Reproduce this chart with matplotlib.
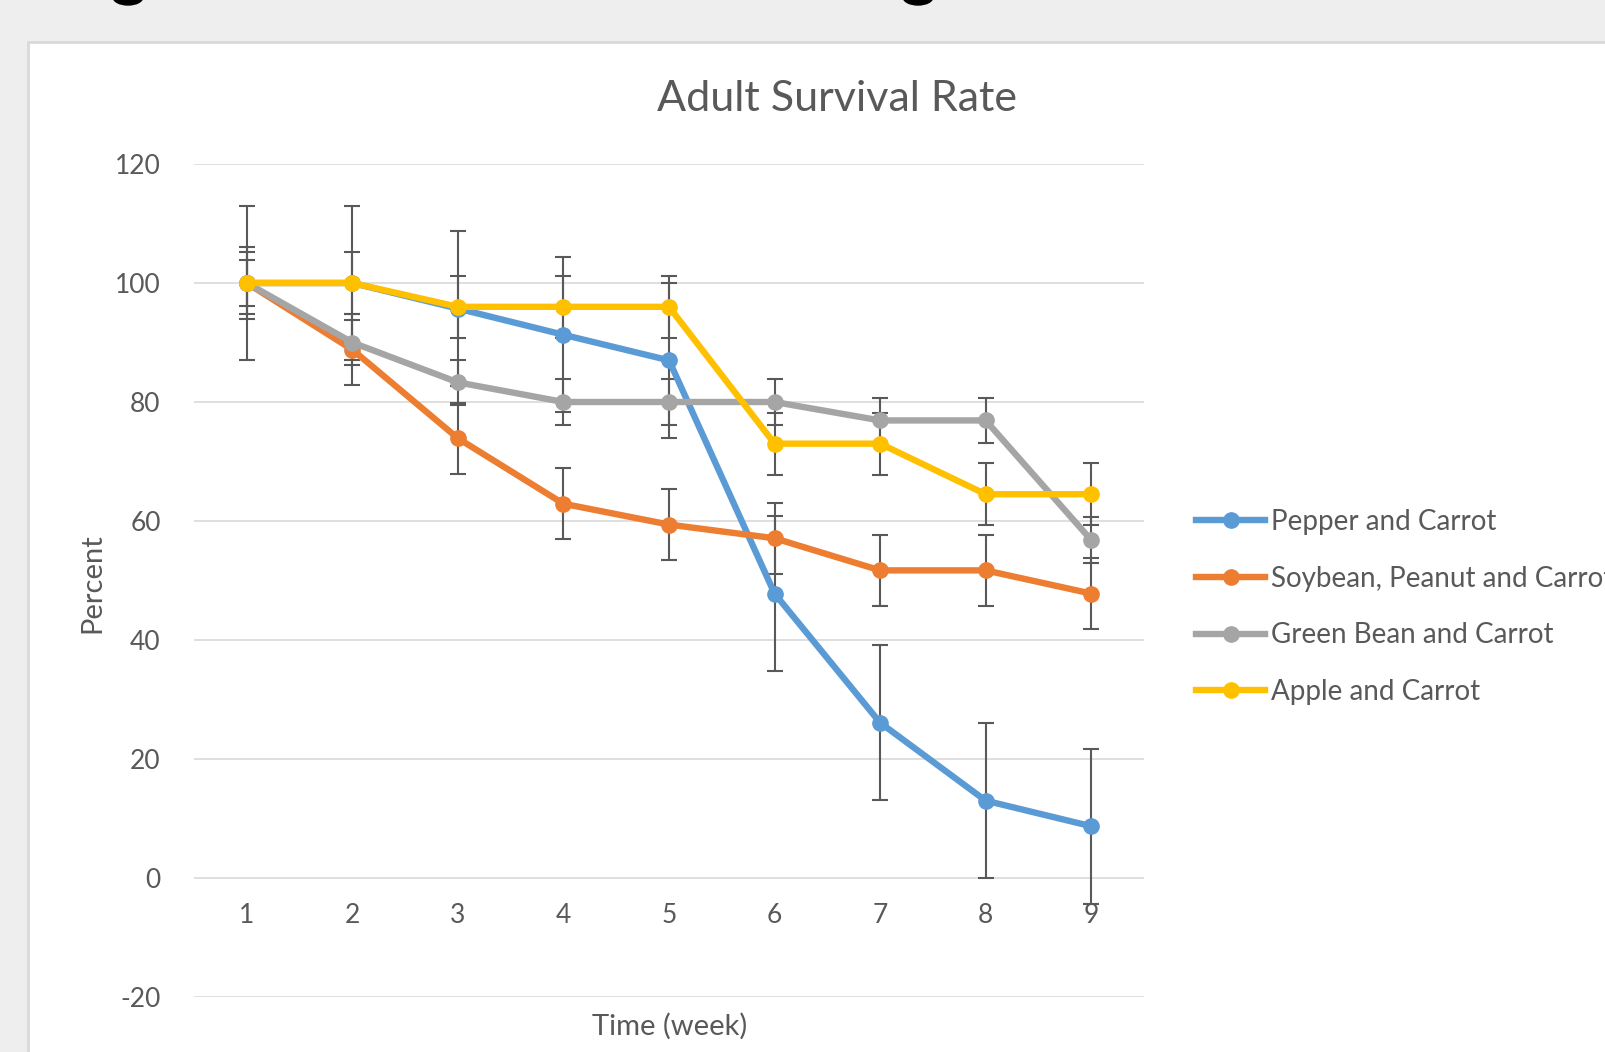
import matplotlib
matplotlib.use("Agg")
import matplotlib.pyplot as plt
from matplotlib.patches import Rectangle, Ellipse

# data
weeks = [1, 2, 3, 4, 5, 6, 7, 8, 9]
pepper = [100, 100, 95.7, 91.3, 87.0, 47.8, 26.1, 13.0, 8.7]
soybean = [100, 88.8, 73.9, 62.9, 59.4, 57.1, 51.7, 51.7, 47.8]
greenbean = [100, 90.0, 83.3, 80.0, 80.0, 80.0, 76.9, 76.9, 56.8]
apple = [100, 100, 96.0, 96.0, 96.0, 73.0, 73.0, 64.5, 64.5]
pepper_err = [13.0] * 9
soybean_err = [6.0] * 9
greenbean_err = [3.8] * 9
apple_err = [5.2] * 9

labels = ["Pepper and Carrot", "Soybean, Peanut and Carrot",
          "Green Bean and Carrot", "Apple and Carrot"]
colors = ["#5B9BD5", "#ED7D31", "#A5A5A5", "#FFC000"]
yticks = [-20, 0, 20, 40, 60, 80, 100, 120]

plt.rcParams['font.family'] = ['Lato', 'DejaVu Sans']
plt.rcParams['axes.unicode_minus'] = False
TXT = "#595959"

W, H = 1605, 1052
fig = plt.figure(figsize=(W / 100, H / 100), dpi=100)
fig.patch.set_facecolor("#eeeeee")

# white chart area (behind the axes)
fig.add_artist(Rectangle((28 / W, -0.01), 1.0, (H - 42) / H + 0.01,
                         transform=fig.transFigure, facecolor="white",
                         edgecolor="#d9d9d9", linewidth=2, zorder=-5))
# bits of the cut-off heading above the chart
for cx in (128, 918):
    fig.add_artist(Ellipse((cx / W, (H + 3) / H), 30 / W, 16 / H,
                           transform=fig.transFigure, color="black",
                           zorder=-4))

ax = fig.add_axes([194 / W, (H - 997) / H, (1144 - 194) / W, (997 - 164) / H])
ax.set_facecolor("none")

series = [pepper, soybean, greenbean, apple]
errs = [pepper_err, soybean_err, greenbean_err, apple_err]
for vals, err in zip(series, errs):
    ax.errorbar(weeks, vals, yerr=err, fmt="none", ecolor="#595959",
                elinewidth=1.5, capsize=6, capthick=1.5, zorder=3)
for i, (vals, lab, c) in enumerate(zip(series, labels, colors)):
    ax.plot(weeks, vals, color=c, lw=4.6, marker="o", ms=11,
            label=lab, zorder=4 + i)

ax.set_xlim(0.5, 9.5)
ax.set_ylim(-20, 120)
ax.set_yticks(yticks)
ax.set_xticks(weeks)
ax.grid(axis="y", color="#d9d9d9", lw=1.2, zorder=0)
ax.set_axisbelow(True)
for s in ax.spines.values():
    s.set_visible(False)
ax.spines['bottom'].set_position(('data', 0))
ax.tick_params(length=0, labelsize=19, colors=TXT)
ax.tick_params(axis="y", pad=24)
ax.tick_params(axis="x", pad=18)

fig.text(837 / W, 1 - 99 / H, "Adult Survival Rate", ha="center",
         va="center", fontsize=31, color=TXT)
fig.text(92 / W, 1 - 583 / H, "Percent", rotation=90, ha="center",
         va="center", fontsize=21, color=TXT)
fig.text(670 / W, 1 - 1026 / H, "Time (week)", ha="center",
         va="center", fontsize=21, color=TXT)

fig.legend(loc="center left", bbox_to_anchor=(1196 / W, 1 - 607 / H),
           frameon=False, fontsize=20, labelcolor=TXT, handlelength=2.5,
           handletextpad=0.2, labelspacing=1.1, borderaxespad=0,
           borderpad=0)

fig.savefig("out.png", dpi=100, facecolor=fig.get_facecolor())
